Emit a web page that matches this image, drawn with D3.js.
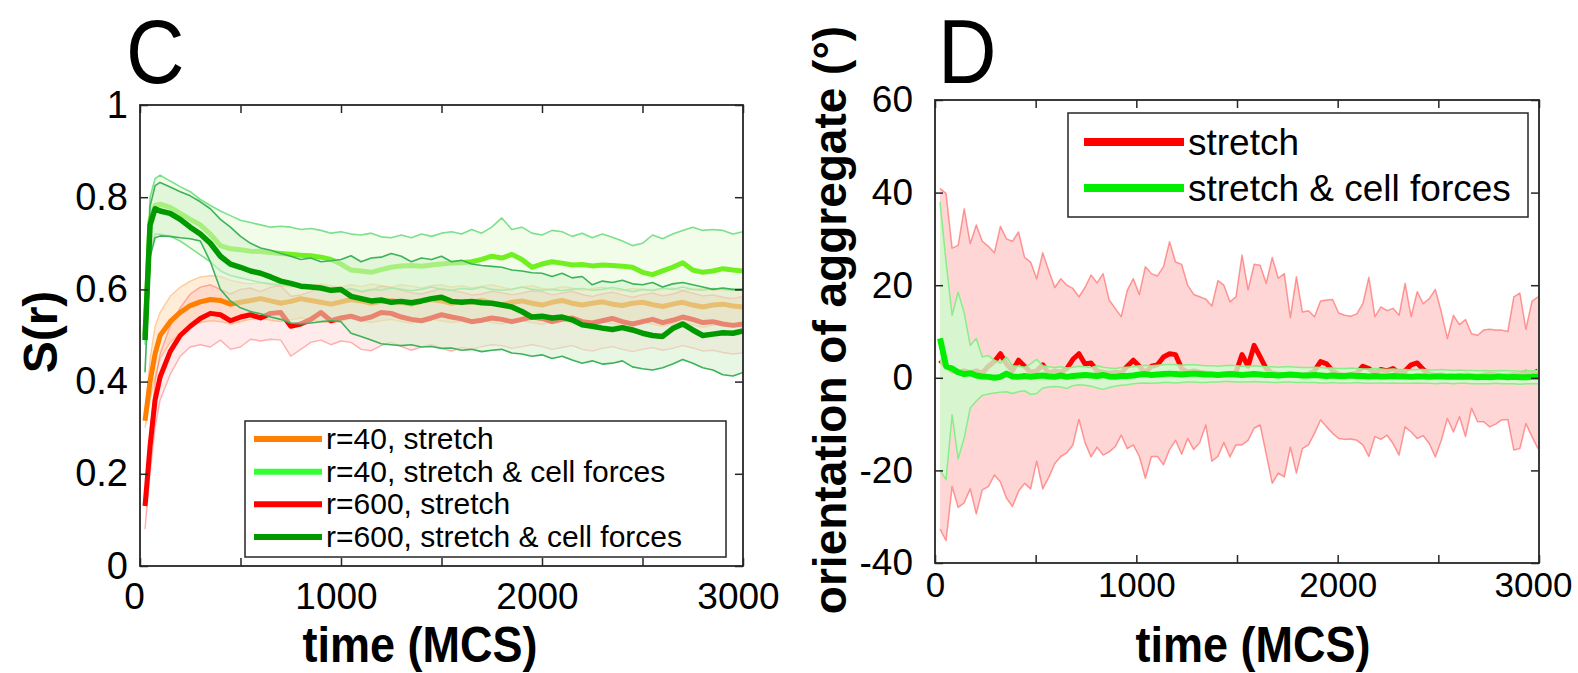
<!DOCTYPE html>
<html><head><meta charset="utf-8">
<script src="https://cdn.jsdelivr.net/npm/d3@7"></script>
<style>
body{margin:0;background:#fff}
svg{display:block}
text{font-family:"Liberation Sans",Arial,Helvetica,sans-serif;fill:#000}
</style>
</head><body>
<svg id="fig" width="1578" height="673"></svg>
<script>
// ---------- Panel C: S(r) versus time ----------
const timeC = [25,50,75,100,150,200,250,300,350,400,
  450,500,550,600,650,700,750,800,850,900,
  950,1000,1050,1100,1150,1200,1250,1300,1350,1400,
  1450,1500,1550,1600,1650,1700,1750,1800,1850,1900,
  1950,2000,2050,2100,2150,2200,2250,2300,2350,2400,
  2450,2500,2550,2600,2650,2700,2750,2800,2850,2900,
  2950,3000];

// r=40, stretch
const r40sLow = [0.30,0.36,0.41,0.45,0.485,0.505,0.52,0.528,0.532,0.53,
  0.525,0.53,0.535,0.538,0.533,0.53,0.534,0.538,0.535,0.53,
  0.528,0.532,0.536,0.533,0.528,0.532,0.535,0.53,0.527,0.532,
  0.535,0.532,0.528,0.531,0.53,0.534,0.528,0.525,0.53,0.533,
  0.528,0.524,0.53,0.533,0.527,0.523,0.527,0.53,0.525,0.522,
  0.527,0.53,0.524,0.52,0.525,0.53,0.523,0.518,0.522,0.525,
  0.52,0.518];
const r40sMean = [0.315,0.40,0.46,0.50,0.53,0.55,0.565,0.573,0.578,0.576,
  0.568,0.572,0.576,0.58,0.575,0.57,0.574,0.58,0.576,0.572,
  0.568,0.573,0.578,0.575,0.57,0.574,0.576,0.572,0.568,0.574,
  0.578,0.575,0.57,0.574,0.572,0.576,0.57,0.567,0.572,0.575,
  0.57,0.566,0.572,0.576,0.57,0.566,0.57,0.573,0.568,0.565,
  0.57,0.572,0.567,0.563,0.568,0.572,0.566,0.562,0.566,0.568,
  0.564,0.562];
const r40sHigh = [0.33,0.45,0.52,0.55,0.585,0.605,0.618,0.627,0.63,0.628,
  0.62,0.615,0.612,0.615,0.61,0.608,0.605,0.61,0.607,0.612,
  0.608,0.605,0.61,0.606,0.612,0.608,0.604,0.61,0.607,0.603,
  0.608,0.61,0.605,0.608,0.603,0.607,0.61,0.605,0.60,0.605,
  0.608,0.602,0.60,0.606,0.603,0.598,0.602,0.605,0.60,0.598,
  0.602,0.60,0.597,0.60,0.603,0.598,0.60,0.602,0.598,0.60,
  0.597,0.60];

// r=600, stretch
const r600sLow = [0.08,0.20,0.30,0.36,0.415,0.455,0.475,0.48,0.475,0.49,
  0.47,0.475,0.492,0.488,0.492,0.49,0.455,0.47,0.485,0.49,
  0.48,0.488,0.485,0.47,0.467,0.478,0.485,0.476,0.468,0.475,
  0.48,0.472,0.466,0.474,0.47,0.476,0.48,0.478,0.472,0.476,
  0.48,0.476,0.47,0.474,0.478,0.47,0.466,0.472,0.476,0.47,
  0.465,0.47,0.474,0.468,0.472,0.478,0.473,0.466,0.468,0.463,
  0.46,0.462];
const r600sMean = [0.13,0.26,0.36,0.41,0.465,0.50,0.52,0.537,0.548,0.545,
  0.532,0.54,0.545,0.538,0.548,0.55,0.52,0.525,0.535,0.55,
  0.532,0.538,0.542,0.535,0.54,0.55,0.548,0.54,0.535,0.532,
  0.538,0.545,0.54,0.536,0.53,0.533,0.538,0.535,0.53,0.535,
  0.54,0.537,0.53,0.535,0.538,0.53,0.527,0.532,0.537,0.53,
  0.525,0.53,0.535,0.528,0.533,0.54,0.535,0.528,0.53,0.525,
  0.522,0.525];
const r600sHigh = [0.15,0.29,0.40,0.46,0.52,0.56,0.59,0.605,0.61,0.60,
  0.59,0.60,0.603,0.595,0.605,0.608,0.585,0.588,0.595,0.605,
  0.592,0.597,0.60,0.594,0.598,0.607,0.605,0.598,0.593,0.59,
  0.596,0.602,0.598,0.594,0.588,0.59,0.596,0.593,0.588,0.592,
  0.597,0.595,0.588,0.592,0.596,0.589,0.585,0.59,0.594,0.588,
  0.583,0.588,0.592,0.586,0.59,0.597,0.592,0.586,0.588,0.583,
  0.58,0.585];

// r=40, stretch & cell forces
const r40cLow = [0.48,0.68,0.72,0.72,0.715,0.705,0.69,0.675,0.66,0.64,
  0.63,0.625,0.62,0.615,0.612,0.61,0.608,0.605,0.603,0.605,
  0.60,0.598,0.602,0.596,0.60,0.598,0.603,0.60,0.597,0.60,
  0.605,0.60,0.598,0.602,0.60,0.605,0.60,0.598,0.60,0.605,
  0.60,0.598,0.60,0.597,0.60,0.602,0.598,0.60,0.604,0.60,
  0.595,0.60,0.598,0.603,0.60,0.605,0.60,0.598,0.602,0.60,
  0.598,0.60];
const r40cMean = [0.50,0.75,0.782,0.785,0.778,0.765,0.752,0.74,0.72,0.695,
  0.688,0.686,0.683,0.682,0.68,0.678,0.676,0.674,0.673,0.67,
  0.665,0.655,0.642,0.64,0.637,0.643,0.648,0.651,0.652,0.65,
  0.653,0.655,0.657,0.658,0.66,0.665,0.672,0.668,0.676,0.665,
  0.648,0.655,0.66,0.657,0.653,0.654,0.651,0.653,0.652,0.65,
  0.648,0.637,0.632,0.64,0.648,0.658,0.642,0.637,0.64,0.645,
  0.642,0.64];
const r40cHigh = [0.52,0.80,0.84,0.848,0.835,0.823,0.812,0.795,0.782,0.77,
  0.76,0.75,0.745,0.74,0.735,0.737,0.735,0.73,0.732,0.728,
  0.722,0.725,0.72,0.718,0.722,0.714,0.712,0.718,0.712,0.72,
  0.715,0.722,0.725,0.72,0.73,0.722,0.735,0.755,0.73,0.735,
  0.722,0.718,0.728,0.725,0.715,0.722,0.712,0.72,0.713,0.705,
  0.695,0.70,0.718,0.71,0.72,0.728,0.735,0.728,0.73,0.728,
  0.72,0.725];

// r=600, stretch & cell forces
const r600cLow = [0.42,0.67,0.712,0.716,0.715,0.712,0.71,0.705,0.66,0.60,
  0.575,0.56,0.552,0.547,0.54,0.535,0.527,0.525,0.527,0.53,
  0.532,0.53,0.505,0.498,0.49,0.482,0.48,0.478,0.48,0.475,
  0.476,0.472,0.473,0.468,0.47,0.465,0.468,0.47,0.462,0.46,
  0.455,0.458,0.45,0.455,0.447,0.44,0.445,0.438,0.44,0.445,
  0.432,0.428,0.425,0.43,0.438,0.448,0.44,0.43,0.425,0.415,
  0.412,0.42];
const r600cMean = [0.49,0.74,0.775,0.77,0.765,0.752,0.735,0.72,0.70,0.672,
  0.655,0.648,0.64,0.635,0.627,0.618,0.613,0.607,0.605,0.603,
  0.598,0.60,0.585,0.58,0.575,0.577,0.572,0.574,0.571,0.575,
  0.58,0.583,0.574,0.572,0.574,0.571,0.57,0.566,0.562,0.552,
  0.54,0.542,0.538,0.54,0.534,0.523,0.52,0.516,0.513,0.517,
  0.512,0.505,0.50,0.498,0.515,0.525,0.512,0.50,0.503,0.506,
  0.505,0.51];
const r600cHigh = [0.51,0.78,0.825,0.832,0.822,0.812,0.803,0.79,0.775,0.752,
  0.735,0.715,0.70,0.69,0.685,0.678,0.672,0.665,0.668,0.66,
  0.662,0.665,0.673,0.66,0.668,0.67,0.678,0.672,0.66,0.668,
  0.665,0.672,0.66,0.663,0.655,0.652,0.65,0.648,0.642,0.64,
  0.636,0.635,0.628,0.635,0.625,0.628,0.61,0.618,0.615,0.62,
  0.612,0.61,0.615,0.605,0.612,0.615,0.61,0.605,0.60,0.603,
  0.60,0.60];

const legendC = ["r=40, stretch","r=40, stretch & cell forces","r=600, stretch","r=600, stretch & cell forces"];
const ticksCx = [0,500,1000,1500,2000,2500,3000];
const ticksCy = [0,0.2,0.4,0.6,0.8,1];

// ---------- Panel D: orientation of aggregate versus time ----------
const timeStepD = 30;           // sampling interval (MCS)
const timeStartD = 25;
const stretchLow = [-32.7,-35.2,-23.5,-28,-27,-24,-29.4,-24.2,-23.5,-21,
  -22.5,-26,-27.8,-24.5,-22.8,-24,-18,-24,-21.5,-18.5,
  -17,-16.2,-14.5,-9,-14,-17.1,-15,-16.7,-16,-14.9,
  -12.4,-15.3,-14.5,-17,-21.7,-17,-17,-18.8,-15.5,-13.5,
  -16.5,-13.1,-15.5,-14,-10.2,-18,-17,-14,-17.1,-14.5,
  -14.5,-13.5,-10.9,-10.2,-16.5,-22.8,-20.6,-21.4,-15,-20.6,
  -15.3,-14.5,-12,-9.1,-10.6,-12,-13.1,-13.3,-13.2,-13.5,
  -14.5,-17,-12.7,-13.3,-12.4,-14.2,-16.7,-10.6,-11.7,-13.1,
  -12.5,-14.2,-17.1,-13.5,-8.8,-11.7,-8.4,-12.7,-6.6,-9.5,
  -9.5,-10.6,-10,-9.1,-9,-15.6,-15.3,-9.9,-12.7,-15.3];
const stretchMean = [3.8,2.5,1.5,1.2,1.5,1,1.5,1,2.5,3.5,
  5.2,3,1.5,3.8,2.5,1.2,1.5,2.8,1,1.5,
  1.2,2,4,5.2,3,3.2,1.5,1.2,1,1.2,
  1,2.5,3.8,2.5,1,2.5,2.8,4.5,5.2,5,
  2,1.2,1.5,1.2,1,0.8,0.6,0.8,0.7,1.2,
  5,2.5,7,4.5,2,1,0.8,0.6,0.5,0.7,
  0.5,0.8,1.5,3.5,3,1.5,0.8,0.5,0.7,1,
  2.5,2,1,1.8,1.5,2,1,1.5,2.8,3.2,
  1.8,0.8,0.5,0.6,0.4,0.5,0.4,0.6,0.5,0.4,
  0.6,0.8,0.6,0.5,0.5,0.7,0.6,1.2,0.8,1.5];
const stretchHigh = [40.9,39.8,28,28.6,36.5,29,33,29.5,28.4,27,
  32.7,30,29.5,31.5,26,25,21.4,27,23.2,19.5,
  21.4,20,19.3,17.5,19.5,22.2,20.5,22.5,16.8,15,
  13.2,18.9,21.4,18,24,22.5,22,24,29.4,25,
  24.5,20,18,17.5,17,15.5,21,20,16.4,17.5,
  26.5,19,24.5,24.3,20.4,26,21.5,22.5,13,21.8,
  14.2,14.5,13.2,16.6,16.8,16.9,14,13.5,13.3,13.8,
  16,21.7,13.2,15.3,14.5,15,13.5,20.4,13.2,18.6,
  16,17.1,19.1,14.2,8.5,13.5,11.5,12.6,9.5,9.2,
  10.3,10.5,10.3,10.3,10,17.5,18.3,10.5,16.5,17.5];
const cellLow = [-20,-22,-8,-17.5,-13,-6.5,-5,-3.8,-3.5,-3.3,
  -3.1,-3,-3.4,-3,-2.8,-3.6,-3.4,-2.2,-2,-1.9,
  -2,-2.3,-1.7,-1.5,-1.6,-1.8,-2.2,-2.5,-2.1,-1.8,
  -1.6,-1.5,-1.3,-1.2,-1.1,-1.2,-1.1,-1.0,-1.0,-1.1,
  -1.0,-0.9,-0.9,-1.0,-1.0,-0.9,-0.9,-0.8,-0.8,-0.9,
  -0.9,-0.9,-0.8,-0.9,-0.9,-1.0,-1.0,-0.9,-0.9,-1.0,
  -1.0,-1.0,-1.0,-1.1,-1.1,-1.0,-1.1,-1.1,-1.1,-1.0,
  -1.1,-1.2,-1.1,-1.1,-1.2,-1.1,-1.2,-1.2,-1.2,-1.1,
  -1.2,-1.2,-1.3,-1.2,-1.2,-1.3,-1.2,-1.2,-1.3,-1.3,
  -1.3,-1.3,-1.2,-1.3,-1.3,-1.3,-1.4,-1.3,-1.3,-1.3];
const cellMean = [8.5,2.5,2,1.2,0.8,1,0.5,0.3,0.2,0,
  0.2,0.9,0.3,0.2,0.4,0.2,0.4,0.5,0.3,0.2,
  0.5,0.2,0.4,0.5,0.6,0.5,0.4,0.6,0.3,0.2,
  0.4,0.4,0.5,0.7,0.8,0.6,0.7,0.8,0.9,0.8,
  0.7,0.8,0.9,0.8,0.7,0.7,0.6,0.7,0.8,0.7,
  0.6,0.7,0.8,0.7,0.6,0.6,0.5,0.6,0.7,0.6,
  0.5,0.5,0.6,0.5,0.4,0.5,0.4,0.4,0.5,0.4,
  0.4,0.3,0.4,0.3,0.3,0.4,0.3,0.3,0.2,0.3,
  0.3,0.2,0.3,0.3,0.2,0.2,0.3,0.2,0.2,0.1,
  0.2,0.1,0.2,0.2,0.1,0.2,0.1,0.1,0.2,0.2];
const cellHigh = [38,25,13.5,18.5,14,7,8.5,4.5,4.8,3.8,
  3.2,4.5,2.6,2.5,2.3,3,4,2.6,2.4,2.2,
  2.4,2.1,2.3,2.5,2.4,2.2,2.6,2.3,2.1,2.0,
  2.2,2.3,2.4,2.6,2.7,2.6,2.7,2.8,2.9,2.8,
  2.7,2.8,2.8,2.7,2.6,2.6,2.5,2.6,2.7,2.6,
  2.5,2.5,2.6,2.5,2.4,2.4,2.3,2.4,2.4,2.3,
  2.2,2.2,2.3,2.2,2.1,2.1,2.0,2.0,2.1,2.0,
  1.9,1.9,2.0,1.9,1.8,1.9,1.8,1.8,1.7,1.8,
  1.8,1.7,1.7,1.8,1.7,1.6,1.7,1.6,1.6,1.5,
  1.6,1.5,1.5,1.6,1.5,1.5,1.4,1.5,1.5,1.5];
const timeD = stretchMean.map((_, i) => timeStartD + i * timeStepD);

const legendD = ["stretch","stretch & cell forces"];
const ticksDx = [0,500,1000,1500,2000,2500,3000];
const ticksDy = [-40,-20,0,20,40,60];

// ---------- drawing ----------
const svg = d3.select("#fig");
const BOX = "#262626";

function frame(g, x, y, xt, yt, xFmt, yFmt, o) {
  const [xa, xb] = x.range(), [yb, ya] = y.range();
  const bottom = g.append("g").attr("transform", `translate(0,${yb})`)
    .call(d3.axisBottom(x).tickValues(xt).tickSize(-8).tickPadding(o.xPad).tickFormat(xFmt))
    .call(s => s.select(".domain").remove());
  bottom.selectAll(".tick text").style("font-size", o.xFs + "px")
    .attr("dx", d => o.xShift(d));
  g.append("g").attr("transform", `translate(0,${ya})`)
    .call(d3.axisTop(x).tickValues(xt).tickSize(-8).tickFormat(""))
    .call(s => s.select(".domain").remove());
  const left = g.append("g").attr("transform", `translate(${xa},0)`)
    .call(d3.axisLeft(y).tickValues(yt).tickSize(-8).tickPadding(o.yPad).tickFormat(yFmt))
    .call(s => s.select(".domain").remove());
  left.selectAll(".tick text").style("font-size", o.yFs + "px");
  g.append("g").attr("transform", `translate(${xb},0)`)
    .call(d3.axisRight(y).tickValues(yt).tickSize(-8).tickFormat(""))
    .call(s => s.select(".domain").remove());
  g.selectAll(".tick line").attr("stroke", BOX).attr("stroke-width", 1.5);
  g.selectAll(".tick text").attr("fill", "#000")
    .style("font-family", '"Liberation Sans",Arial,sans-serif');
  g.append("rect").attr("x", xa).attr("y", ya).attr("width", xb - xa).attr("height", yb - ya)
    .attr("fill", "none").attr("stroke", BOX).attr("stroke-width", 1.8);
}

function band(g, x, y, t, lo, hi, fill) {
  const a = d3.area().x((d, i) => x(t[i])).y0((d, i) => y(lo[i])).y1((d, i) => y(hi[i]));
  g.append("path").datum(lo).attr("d", a).attr("fill", fill).attr("stroke", "none");
}
function line(g, x, y, t, v, color, w) {
  const l = d3.line().x((d, i) => x(t[i])).y(d => y(d)).curve(d3.curveLinear);
  g.append("path").datum(v).attr("d", l).attr("fill", "none").attr("stroke", color)
    .attr("stroke-width", w).attr("stroke-linejoin", "round").attr("stroke-linecap", "butt");
}
// free text with optional horizontal squeeze and rotation
function label(x, y, str, size, opts = {}) {
  const sx = opts.sx || 1, rot = opts.rot || 0;
  return svg.append("text")
    .attr("transform", `translate(${x},${y}) rotate(${rot}) scale(${sx},1)`)
    .attr("text-anchor", opts.anchor || "start")
    .style("font-size", size + "px")
    .style("font-weight", opts.bold ? "bold" : "normal")
    .text(str);
}

// ----- Panel C -----
const xC = d3.scaleLinear().domain([0, 3000]).range([140, 743]);
const yC = d3.scaleLinear().domain([0, 1]).range([566, 105]);
const gC = svg.append("g");
svg.append("clipPath").attr("id", "clipC").append("rect")
  .attr("x", 140).attr("y", 105).attr("width", 603).attr("height", 461);
const pC = gC.append("g").attr("clip-path", "url(#clipC)");

const colOrange = "#ff8000", colRed = "#ff0000", colLime = "#70f020", colDark = "#009a00";

band(pC, xC, yC, timeC, r40sLow, r40sHigh, "rgba(255,140,20,0.16)");
band(pC, xC, yC, timeC, r600sLow, r600sHigh, "rgba(255,60,60,0.10)");
[r40sLow, r40sHigh].forEach(v => line(pC, xC, yC, timeC, v, "rgba(255,150,60,0.45)", 1.4));
[r600sLow, r600sHigh].forEach(v => line(pC, xC, yC, timeC, v, "rgba(255,70,70,0.4)", 1.4));
line(pC, xC, yC, timeC, r40sMean, colOrange, 5);
line(pC, xC, yC, timeC, r600sMean, colRed, 5);

band(pC, xC, yC, timeC, r40cLow, r40cHigh, "rgba(170,240,110,0.16)");
[r40cLow, r40cHigh].forEach(v => line(pC, xC, yC, timeC, v, "#7ce08c", 1.6));
line(pC, xC, yC, timeC, r40cMean, colLime, 5);

band(pC, xC, yC, timeC, r600cLow, r600cHigh, "rgba(214,240,204,0.55)");
[r600cLow, r600cHigh].forEach(v => line(pC, xC, yC, timeC, v, "#3cb35a", 1.6));
line(pC, xC, yC, timeC, r600cMean, colDark, 5.5);

frame(gC, xC, yC, ticksCx, ticksCy, d => (d % 1000 === 0 ? d : ""), d => d,
  { xPad: 17, yPad: 12, xFs: 37, yFs: 38, xShift: d => (d === 0 ? -6 : -5) });

// legend C
const lgC = gC.append("g");
lgC.append("rect").attr("x", 245).attr("y", 421).attr("width", 481).attr("height", 136)
  .attr("fill", "#fff").attr("stroke", BOX).attr("stroke-width", 1.5);
const legColC = [colOrange, "#33ff33", colRed, colDark];
const rowC = d3.scalePoint().domain(legendC).range([439, 537]);
legendC.forEach((lab, i) => {
  lgC.append("line").attr("x1", 254).attr("x2", 322).attr("y1", rowC(lab)).attr("y2", rowC(lab))
    .attr("stroke", legColC[i]).attr("stroke-width", 6);
  lgC.append("text").attr("x", 326).attr("y", rowC(lab) + 10).style("font-size", "30px").text(lab);
});

// titles C
label(126, 83, "C", 90, { sx: 0.9 });
label(420, 662, "time (MCS)", 50, { bold: true, sx: 0.9, anchor: "middle" });
label(57, 332, "S(r)", 48, { bold: true, rot: -90, anchor: "middle" });

// ----- Panel D -----
const xD = d3.scaleLinear().domain([0, 3000]).range([935, 1539]);
const yD = d3.scaleLinear().domain([-40, 60]).range([563, 100]);
const gD = svg.append("g");
svg.append("clipPath").attr("id", "clipD").append("rect")
  .attr("x", 935).attr("y", 100).attr("width", 604).attr("height", 463);
const pD = gD.append("g").attr("clip-path", "url(#clipD)");

band(pD, xD, yD, timeD, stretchLow, stretchHigh, "rgba(255,0,0,0.16)");
[stretchLow, stretchHigh].forEach(v => line(pD, xD, yD, timeD, v, "rgba(255,60,60,0.5)", 1.5));
line(pD, xD, yD, timeD, stretchMean, "#ff0000", 5);
band(pD, xD, yD, timeD, cellLow, cellHigh, "rgba(205,252,205,0.8)");
[cellLow, cellHigh].forEach(v => line(pD, xD, yD, timeD, v, "#88ee88", 1.5));
line(pD, xD, yD, timeD, cellMean, "#00ee00", 6);

frame(gD, xD, yD, ticksDx, ticksDy, d => (d % 1000 === 0 ? d : ""), d => d,
  { xPad: 9, yPad: 22, xFs: 35, yFs: 37, xShift: d => (d === 3000 ? -6 : 0) });

// legend D
const lgD = gD.append("g");
lgD.append("rect").attr("x", 1068).attr("y", 113).attr("width", 460).attr("height", 104)
  .attr("fill", "#fff").attr("stroke", BOX).attr("stroke-width", 1.5);
const legColD = ["#ff0000", "#00ee00"];
const rowD = d3.scalePoint().domain(legendD).range([142, 188]);
legendD.forEach((lab, i) => {
  lgD.append("line").attr("x1", 1084).attr("x2", 1184).attr("y1", rowD(lab)).attr("y2", rowD(lab))
    .attr("stroke", legColD[i]).attr("stroke-width", 8);
  lgD.append("text").attr("x", 1188).attr("y", rowD(lab) + 13).style("font-size", "37px").text(lab);
});

label(938, 83, "D", 90, { sx: 0.9 });
label(1253, 662, "time (MCS)", 50, { bold: true, sx: 0.9, anchor: "middle" });
label(846, 320, "orientation of aggregate (°)", 46, { bold: true, rot: -90, anchor: "middle" });
</script>
</body></html>
